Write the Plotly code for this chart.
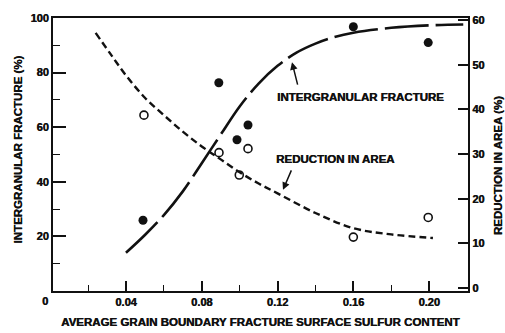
import plotly.graph_objects as go

# Measured points
frac_x = [0.049, 0.089, 0.0986, 0.1044, 0.16, 0.1995]
frac_y = [25.9, 76.3, 55.4, 60.8, 96.8, 91.0]

ra_x = [0.0495, 0.0891, 0.0998, 0.1044, 0.16, 0.1995]
ra_y = [38.7, 30.3, 25.3, 31.2, 11.4, 15.8]

# Fitted trend curves
frac_curve_x = [0.04, 0.05, 0.06, 0.07, 0.08, 0.09, 0.10, 0.11, 0.12, 0.13,
                0.14, 0.15, 0.16, 0.18, 0.20, 0.218]
frac_curve_y = [14.0, 20.5, 27.8, 36.5, 46.8, 57.3, 67.6, 76.0, 82.5, 87.3,
                90.6, 93.0, 94.6, 96.4, 97.3, 97.6]

ra_curve_x = [0.024, 0.032, 0.04, 0.05, 0.06, 0.07, 0.08, 0.09, 0.10, 0.11, 0.12,
              0.14, 0.16, 0.18, 0.202]
ra_curve_y = [57.1, 52.3, 47.6, 42.6, 38.7, 35.0, 31.7, 28.8, 25.9, 23.4, 21.2,
              16.8, 13.4, 12.0, 11.2]

left_ticks = [20, 40, 60, 80, 100]
right_ticks = [0, 10, 20, 30, 40, 50, 60]
x_ticks = [0.04, 0.08, 0.12, 0.16, 0.20]

W, H = 505, 333
L, R, T, B = 53, 468, 13, 291
INK = "#111111"
FONT = "Liberation Sans"
HEAVY = "0.45px 0 0 #111111"   # slight horizontal thickening for a heavier face


def px(xp):
    return (xp - L) / (R - L)


def py(yp):
    return (B - yp) / (B - T)


fig = go.Figure()

fig.add_trace(go.Scatter(
    x=frac_curve_x, y=frac_curve_y, mode="lines",
    line=dict(color=INK, width=2.6, dash="44px,7px", shape="spline", smoothing=1),
    showlegend=False,
))
fig.add_trace(go.Scatter(
    x=ra_curve_x, y=ra_curve_y, mode="lines", yaxis="y2",
    line=dict(color=INK, width=2.4, dash="7px,4px", shape="spline", smoothing=1),
    showlegend=False,
))
fig.add_trace(go.Scatter(
    x=frac_x, y=frac_y, mode="markers",
    marker=dict(symbol="circle", size=9, color=INK), showlegend=False,
))
fig.add_trace(go.Scatter(
    x=ra_x, y=ra_y, mode="markers", yaxis="y2",
    marker=dict(symbol="circle-open", size=8, color=INK, line=dict(width=1.6)),
    showlegend=False,
))

tickfont = dict(family=FONT, size=11, color=INK, weight=700, shadow=HEAVY)

fig.update_layout(
    width=W, height=H,
    margin=dict(l=L, r=W - R, t=T, b=H - B),
    paper_bgcolor="white", plot_bgcolor="white",
    xaxis=dict(
        range=[0.0015, 0.2205], tickvals=x_ticks,
        ticktext=[f"{v:.2f}" for v in x_ticks],
        ticks="inside", ticklen=10, tickwidth=1.6, tickcolor=INK,
        minor=dict(tickvals=[0.02, 0.06, 0.10, 0.14, 0.18], ticks="inside",
                   ticklen=6, tickwidth=1.4, tickcolor=INK),
        showline=True, linecolor=INK, linewidth=2, mirror=True,
        showgrid=False, zeroline=False, tickfont=tickfont,
    ),
    yaxis=dict(
        range=[0, 100], tickvals=left_ticks, ticktext=[str(v) for v in left_ticks],
        ticks="inside", ticklen=13, tickwidth=1.6, tickcolor=INK,
        minor=dict(tickvals=[10, 30, 50, 70, 90], ticks="inside",
                   ticklen=7, tickwidth=1.4, tickcolor=INK),
        showline=True, linecolor=INK, linewidth=2,
        showgrid=False, zeroline=False, tickfont=tickfont,
    ),
    yaxis2=dict(
        range=[-0.66, 60.44], overlaying="y", side="right",
        tickvals=right_ticks, ticktext=[str(v) for v in right_ticks],
        ticks="inside", ticklen=10, tickwidth=1.6, tickcolor=INK,
        showline=True, linecolor=INK, linewidth=2,
        showgrid=False, zeroline=False, tickfont=tickfont,
    ),
)

label_font = dict(family=FONT, size=11.5, color=INK, weight=700, shadow=HEAVY)

# Axis titles and the shared origin label
fig.add_annotation(text="AVERAGE GRAIN BOUNDARY FRACTURE SURFACE SULFUR CONTENT",
                   xref="paper", yref="paper", x=px(260), y=py(323),
                   showarrow=False, font=label_font, xanchor="center", yanchor="middle")
fig.add_annotation(text="INTERGRANULAR FRACTURE (%)", textangle=-90,
                   xref="paper", yref="paper", x=px(18), y=py(147),
                   showarrow=False, font=label_font, xanchor="center", yanchor="middle")
fig.add_annotation(text="REDUCTION IN AREA (%)", textangle=-90,
                   xref="paper", yref="paper", x=px(498), y=py(164),
                   showarrow=False, font=label_font, xanchor="center", yanchor="middle")
fig.add_annotation(text="0", xref="paper", yref="paper", x=px(45), y=py(301),
                   showarrow=False, font=tickfont, xanchor="center", yanchor="middle")

# Curve labels with pointers
fig.add_annotation(text="INTERGRANULAR FRACTURE", xref="paper", yref="paper",
                   x=px(275), y=py(93), xanchor="left", yanchor="middle",
                   showarrow=False, font=label_font)
fig.add_annotation(text="REDUCTION IN AREA", xref="paper", yref="paper",
                   x=px(274), y=py(157), xanchor="left", yanchor="middle",
                   showarrow=False, font=label_font)
fig.add_annotation(text="", xref="paper", yref="paper", axref="pixel", ayref="pixel",
                   x=px(292), y=py(58), ax=6, ay=24,
                   showarrow=True, arrowhead=2, arrowsize=1, arrowwidth=1.5, arrowcolor=INK)
fig.add_annotation(text="", xref="paper", yref="paper", axref="pixel", ayref="pixel",
                   x=px(283), y=py(188), ax=9, ay=-21,
                   showarrow=True, arrowhead=2, arrowsize=1, arrowwidth=1.5, arrowcolor=INK)

fig.write_html("out.html")
